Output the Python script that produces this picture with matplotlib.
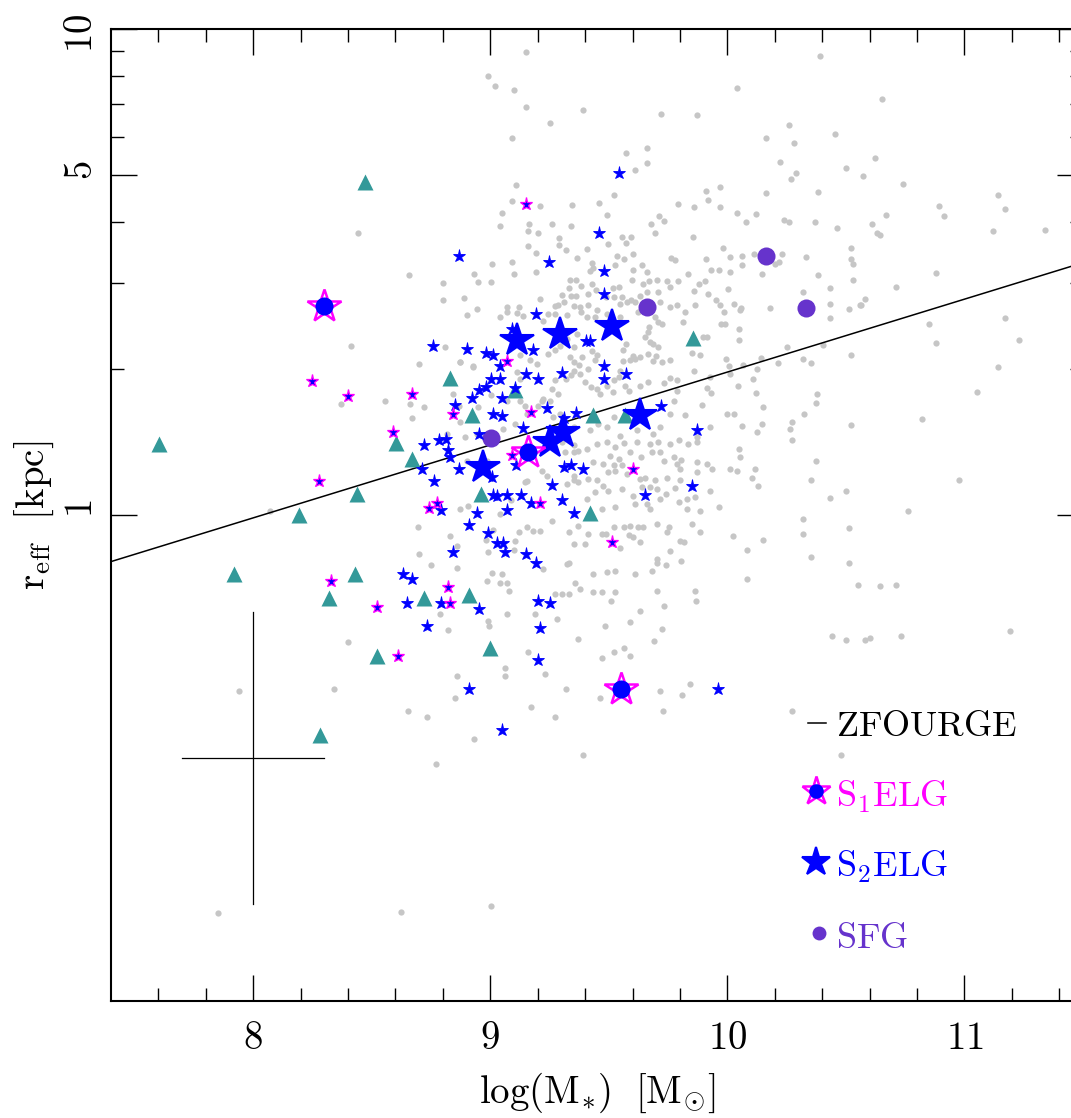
import numpy as np
import matplotlib.pyplot as plt
from matplotlib.ticker import NullFormatter

plt.rcParams['mathtext.fontset'] = 'cm'

# ZFOURGE comparison sample: (log M*, log r_eff)
zfourge_pts = [
    (8.444, 0.580), (8.411, 0.347), (8.369, 0.229), (8.071, 0.009), (8.401, -0.261),
    (7.940, -0.363), (8.341, -0.359), (7.851, -0.819), (8.932, -0.460), (8.771, -0.513),
    (9.392, -0.493), (8.622, -0.817), (9.002, -0.805), (10.480, -0.493),
    (9.151, 0.953), (8.992, 0.903), (9.020, 0.883), (9.100, 0.874), (9.151, 0.839),
    (9.252, 0.806), (9.390, 0.833), (9.721, 0.826), (9.871, 0.823), (9.090, 0.775),
    (9.572, 0.744), (9.660, 0.756), (9.660, 0.725), (9.611, 0.710), (9.911, 0.667),
    (9.920, 0.648), (9.791, 0.640), (9.522, 0.659), (9.109, 0.679), (8.659, 0.493),
    (10.392, 0.945), (10.041, 0.878), (10.652, 0.856), (10.262, 0.802), (10.452, 0.783),
    (10.161, 0.775), (10.280, 0.765), (10.220, 0.726), (10.621, 0.735), (10.501, 0.713),
    (10.572, 0.698), (10.290, 0.703), (10.269, 0.691), (9.971, 0.674), (10.740, 0.680),
    (10.382, 0.664), (10.161, 0.663), (11.141, 0.659), (10.891, 0.635), (10.912, 0.615),
    (11.172, 0.629), (11.122, 0.585), (11.341, 0.586), (10.671, 0.618), (10.611, 0.598),
    (10.631, 0.581), (10.642, 0.577), (10.712, 0.469), (10.881, 0.498), (10.581, 0.444),
    (10.562, 0.431), (10.851, 0.392), (11.172, 0.405), (11.231, 0.359), (10.881, 0.354),
    (9.090, 0.646), (9.210, 0.635), (9.344, 0.638), (9.460, 0.642), (9.051, 0.622),
    (9.165, 0.598), (9.262, 0.598), (9.041, 0.594), (9.341, 0.594), (9.491, 0.618),
    (9.679, 0.598), (9.712, 0.615), (9.731, 0.605), (9.693, 0.581), (9.161, 0.584),
    (9.200, 0.580), (9.555, 0.572), (9.593, 0.572), (9.573, 0.560), (9.498, 0.558),
    (9.407, 0.548), (9.290, 0.569), (9.290, 0.556), (9.320, 0.545), (9.192, 0.540),
    (9.161, 0.553), (9.009, 0.517), (9.090, 0.521), (9.365, 0.529), (9.428, 0.519),
    (9.432, 0.508), (9.534, 0.532), (9.562, 0.527), (9.601, 0.536), (9.639, 0.515),
    (9.763, 0.529), (9.780, 0.524), (9.660, 0.500), (9.601, 0.505), (9.524, 0.515),
    (9.421, 0.501), (8.933, 0.495), (9.102, 0.495), (9.192, 0.499), (9.362, 0.483),
    (9.337, 0.483), (9.330, 0.468), (9.382, 0.472), (9.341, 0.450), (9.362, 0.450),
    (9.302, 0.453), (9.414, 0.455), (9.446, 0.462), (9.431, 0.476), (9.517, 0.466),
    (9.541, 0.469), (9.489, 0.448), (9.520, 0.448), (9.555, 0.448), (9.597, 0.483),
    (9.646, 0.475), (9.671, 0.481), (9.702, 0.483), (9.745, 0.481), (9.791, 0.481),
    (9.759, 0.470), (9.709, 0.459), (9.663, 0.459), (9.632, 0.450), (9.594, 0.442),
    (9.548, 0.435), (9.414, 0.431), (9.379, 0.428), (9.351, 0.430), (9.313, 0.438),
    (9.287, 0.433), (9.273, 0.429), (9.273, 0.414), (9.210, 0.445), (9.119, 0.428),
    (9.070, 0.428), (9.070, 0.418), (9.112, 0.416), (9.140, 0.409), (9.039, 0.407),
    (8.950, 0.479), (9.002, 0.479), (8.802, 0.477), (8.891, 0.446), (8.802, 0.443),
    (8.943, 0.424), (8.901, 0.411), (9.224, 0.400), (9.245, 0.414), (9.323, 0.412),
    (9.383, 0.418), (9.442, 0.407), (9.452, 0.422), (9.491, 0.414), (9.548, 0.407),
    (9.576, 0.438), (9.611, 0.438), (9.625, 0.418), (9.716, 0.438), (9.756, 0.428),
    (9.787, 0.431), (9.695, 0.407), (9.709, 0.397), (9.724, 0.392), (9.671, 0.387),
    (9.667, 0.376), (9.653, 0.366), (9.674, 0.356), (9.688, 0.352), (9.709, 0.345),
    (9.700, 0.328), (9.667, 0.332), (9.632, 0.325), (9.604, 0.328), (9.573, 0.352),
    (9.558, 0.339), (9.558, 0.317), (9.590, 0.318), (9.611, 0.320), (9.688, 0.317),
    (9.724, 0.315), (9.759, 0.318), (9.759, 0.282), (9.787, 0.277), (9.731, 0.271),
    (9.667, 0.273), (9.632, 0.266), (9.569, 0.266), (9.583, 0.256), (9.548, 0.297),
    (9.541, 0.284), (9.520, 0.277), (9.491, 0.266), (9.517, 0.253), (9.463, 0.249),
    (9.449, 0.260), (9.425, 0.263), (9.400, 0.273), (9.379, 0.290), (9.375, 0.308),
    (9.351, 0.314), (9.337, 0.325), (9.386, 0.325), (9.428, 0.337), (9.449, 0.330),
    (9.442, 0.318), (9.414, 0.301), (9.351, 0.297), (9.340, 0.287), (9.320, 0.280),
    (9.273, 0.277), (9.259, 0.260), (9.287, 0.249), (9.252, 0.235), (9.220, 0.235),
    (9.203, 0.225), (9.196, 0.311), (9.168, 0.318), (9.126, 0.330), (9.245, 0.332),
    (9.273, 0.339), (9.295, 0.348), (9.323, 0.363), (9.365, 0.373), (9.351, 0.345),
    (9.407, 0.407), (8.873, 0.314), (8.929, 0.304), (8.809, 0.345), (8.844, 0.249),
    (8.870, 0.225), (8.950, 0.222), (9.003, 0.246), (9.112, 0.294), (9.126, 0.280),
    (9.147, 0.225), (9.224, 0.239), (9.126, 0.235), (9.070, 0.235), (8.873, 0.191),
    (8.816, 0.167), (8.894, 0.160), (8.943, 0.167), (9.055, 0.177), (9.105, 0.188),
    (9.154, 0.208), (9.266, 0.201), (9.295, 0.208), (9.351, 0.181), (9.421, 0.174),
    (9.456, 0.188), (9.491, 0.181), (9.520, 0.201), (9.548, 0.163), (9.618, 0.174),
    (9.688, 0.167), (9.716, 0.181), (9.759, 0.208), (9.773, 0.235), (9.787, 0.256),
    (9.861, 0.633), (9.970, 0.633), (10.040, 0.622), (10.120, 0.619), (10.079, 0.602),
    (10.240, 0.606), (10.262, 0.602), (10.371, 0.602), (10.462, 0.591), (9.857, 0.572),
    (9.981, 0.549), (10.061, 0.533), (10.012, 0.530), (10.113, 0.536), (10.230, 0.536),
    (10.202, 0.517), (10.219, 0.521), (10.331, 0.531), (10.521, 0.550), (10.521, 0.526),
    (10.532, 0.516), (9.911, 0.526), (9.930, 0.503), (9.963, 0.505), (10.012, 0.500),
    (9.832, 0.495), (9.861, 0.460), (9.882, 0.476), (9.904, 0.481), (9.920, 0.455),
    (9.953, 0.443), (10.002, 0.464), (10.061, 0.515), (10.145, 0.495), (10.382, 0.493),
    (10.532, 0.483), (10.321, 0.459), (10.431, 0.467), (10.431, 0.435), (10.431, 0.406),
    (10.511, 0.424), (10.560, 0.431), (10.181, 0.426), (10.058, 0.426), (10.054, 0.421),
    (10.029, 0.435), (9.984, 0.418), (9.967, 0.433), (9.864, 0.433), (9.822, 0.418),
    (9.812, 0.397), (9.973, 0.392), (9.991, 0.392), (10.051, 0.383), (10.051, 0.361),
    (9.897, 0.366), (9.916, 0.367), (9.883, 0.330), (9.850, 0.334), (9.860, 0.296),
    (9.925, 0.284), (9.994, 0.320), (10.005, 0.306), (10.012, 0.289), (10.068, 0.308),
    (10.110, 0.279), (10.124, 0.301), (10.143, 0.323), (10.212, 0.313), (10.251, 0.345),
    (10.321, 0.321), (10.352, 0.313), (10.402, 0.350), (10.522, 0.330), (9.913, 0.262),
    (9.930, 0.251), (10.043, 0.265), (10.120, 0.251), (10.378, 0.249),
    (9.301, 0.150), (9.351, 0.143), (9.316, 0.129), (9.351, 0.129), (9.372, 0.132),
    (9.407, 0.136), (9.449, 0.146), (9.491, 0.150), (9.527, 0.139), (9.566, 0.148),
    (9.618, 0.150), (9.674, 0.146), (9.709, 0.150), (9.759, 0.146), (9.794, 0.154),
    (9.836, 0.146), (9.871, 0.150), (9.505, 0.122), (9.541, 0.115), (9.590, 0.129),
    (9.635, 0.119), (9.681, 0.129), (9.716, 0.129), (9.773, 0.119), (9.804, 0.114),
    (9.731, 0.112), (9.435, 0.108), (9.477, 0.105), (9.520, 0.102), (9.555, 0.102),
    (9.527, 0.091), (9.498, 0.088), (9.576, 0.084), (9.632, 0.074), (9.653, 0.077),
    (9.695, 0.071), (9.745, 0.077), (9.787, 0.105), (9.801, 0.095), (9.801, 0.071),
    (9.871, 0.108), (9.871, 0.088), (9.913, 0.105), (9.934, 0.095), (10.012, 0.095),
    (10.040, 0.091), (10.054, 0.119), (10.047, 0.136), (10.117, 0.095), (10.103, 0.077),
    (10.131, 0.060), (9.927, 0.050), (9.963, 0.017), (9.864, 0.036), (9.829, 0.033),
    (9.780, 0.056), (9.794, 0.026), (9.742, 0.043), (9.716, 0.033), (9.702, 0.053),
    (9.674, 0.057), (9.639, 0.057), (9.604, 0.040), (9.555, 0.053), (9.498, 0.050),
    (9.477, 0.060), (9.449, 0.071), (9.414, 0.074), (9.372, 0.067), (9.351, 0.071),
    (9.351, 0.081), (9.323, 0.064), (9.442, 0.047), (9.407, 0.033), (9.470, 0.012),
    (9.527, 0.016), (9.611, 0.023), (9.660, 0.023), (9.674, 0.012), (9.829, 0.012),
    (9.885, 0.009), (9.850, -0.019), (9.885, -0.036), (9.752, -0.025), (9.745, -0.036),
    (9.702, -0.019), (9.646, -0.025), (9.621, -0.025), (9.590, -0.022), (9.562, -0.025),
    (9.520, -0.025), (9.583, -0.041), (9.604, -0.045), (9.632, -0.056), (9.470, -0.039),
    (9.489, -0.039), (9.411, -0.039), (9.368, -0.022), (9.330, -0.036), (9.400, -0.060),
    (9.351, -0.060), (9.548, -0.067), (9.702, -0.091), (9.702, -0.098), (9.759, -0.074),
    (9.801, -0.053), (9.815, -0.056), (9.804, -0.094), (9.742, -0.104), (9.681, -0.115),
    (9.611, -0.122), (9.491, -0.118), (9.527, -0.115), (9.432, -0.122), (9.330, -0.098),
    (9.323, -0.101), (9.358, -0.139), (9.379, -0.152), (9.435, -0.159), (9.470, -0.159),
    (9.527, -0.159), (9.301, -0.163), (9.330, -0.163), (9.510, -0.177), (9.632, -0.197),
    (9.702, -0.156), (9.731, -0.187), (9.864, -0.156), (9.868, -0.177), (10.022, -0.044),
    (10.082, -0.072), (10.152, -0.052), (10.082, -0.132),
    (9.822, 0.205), (9.892, 0.227), (9.927, 0.181), (9.998, 0.208), (10.026, 0.208),
    (10.061, 0.184), (10.152, 0.222), (10.145, 0.187), (10.124, 0.170), (10.272, 0.191),
    (10.265, 0.177), (10.272, 0.154), (9.871, 0.160),
    (8.701, 0.310), (8.873, 0.314), (8.929, 0.306), (8.556, 0.234), (8.662, 0.229),
    (8.722, 0.222), (8.671, 0.200), (8.901, 0.112), (8.985, 0.112), (8.873, 0.012),
    (8.908, 0.019), (8.693, -0.025), (8.830, -0.043), (8.858, -0.063), (8.701, -0.080),
    (8.750, -0.104), (8.861, -0.110), (8.985, -0.135), (9.006, -0.119), (9.041, -0.139),
    (9.048, -0.122), (9.072, -0.139), (9.079, -0.156), (9.098, -0.073), (9.123, -0.036),
    (9.154, -0.025), (9.105, -0.053), (9.182, -0.032), (9.210, -0.032), (9.259, -0.012),
    (9.224, -0.111), (8.992, -0.077), (8.982, -0.052), (9.013, -0.031), (9.039, 0.001),
    (9.086, 0.030), (9.147, 0.067), (9.154, 0.069), (9.238, 0.081), (9.217, 0.091),
    (8.788, -0.204), (8.823, -0.237), (8.992, -0.218), (8.996, -0.229), (9.069, -0.203),
    (9.189, -0.204), (9.280, -0.214), (9.273, -0.163), (9.161, -0.281), (9.231, -0.328),
    (9.062, -0.315), (9.062, -0.331), (8.861, -0.331), (8.851, -0.377), (8.652, -0.403),
    (8.732, -0.416), (9.171, -0.396), (9.273, -0.416), (9.482, -0.229), (9.590, -0.220),
    (9.723, -0.235), (9.691, -0.260), (9.369, -0.256), (9.470, -0.295), (9.522, -0.283),
    (9.562, -0.273), (9.590, -0.290), (9.714, -0.362), (9.808, -0.371), (9.843, -0.348),
    (9.730, -0.403), (9.463, -0.376), (9.320, -0.359),
    (11.141, 0.304), (11.053, 0.253), (10.822, 0.198), (10.372, 0.230), (10.323, 0.208),
    (10.522, 0.186), (10.979, 0.071), (10.761, 0.009), (10.501, 0.049), (10.431, 0.035),
    (10.372, 0.111), (10.351, 0.071), (10.321, -0.008), (10.321, -0.039), (10.511, -0.027),
    (10.351, -0.086), (10.511, -0.098), (10.552, -0.144), (10.642, -0.147), (10.712, -0.144),
    (10.442, -0.249), (10.501, -0.257), (10.581, -0.257), (10.601, -0.253), (10.732, -0.249),
    (11.192, -0.238), (10.271, -0.403),
]
zfourge_logm = [p[0] for p in zfourge_pts]
zfourge_logr = [p[1] for p in zfourge_pts]

# triangles
tri_logm = [7.601, 8.472, 7.919, 8.192, 8.321, 8.431, 8.437, 8.282, 8.521, 8.601, 8.671,
            8.722, 8.830, 8.911, 8.922, 8.961, 9.000, 9.103, 9.432, 9.421, 9.568, 9.853]
tri_logr = [0.147, 0.685, -0.122, -0.001, -0.171, -0.122, 0.043, -0.453, -0.290, 0.148, 0.116,
            -0.171, 0.282, -0.165, 0.206, 0.043, -0.274, 0.258, 0.206, 0.003, 0.206, 0.365]

# SFG
sfg_logm = [9.002, 9.660, 10.162, 10.331]
sfg_logr = [0.159, 0.428, 0.532, 0.426]

# S1ELG (big = with circle)
s1_big_logm = [8.299, 9.161, 9.552]
s1_big_logr = [0.429, 0.129, -0.359]
s1_logm = [8.249, 8.400, 8.279, 8.328, 9.150, 8.671, 8.842, 8.591, 9.171, 9.091, 8.774,
           8.742, 9.210, 9.601, 9.512, 8.821, 8.830, 8.521, 8.612, 9.070]
s1_logr = [0.275, 0.245, 0.069, -0.135, 0.639, 0.249, 0.208, 0.170, 0.211, 0.124, 0.024,
           0.014, 0.024, 0.095, -0.056, -0.149, -0.182, -0.190, -0.290, 0.316]

# S2ELG
s2_big_logm = [9.112, 9.292, 9.512, 8.971, 9.252, 9.308, 9.632]
s2_big_logr = [0.360, 0.373, 0.389, 0.098, 0.151, 0.170, 0.205]
s2_logm = [9.541, 9.460, 8.870, 9.249, 9.481, 9.481, 9.192, 9.091, 8.760, 8.901, 9.181,
           8.980, 9.011, 9.404, 9.421, 9.041, 9.002, 9.041, 9.151, 9.202, 9.302, 9.481,
           9.481, 9.572, 8.953, 8.981, 9.103, 8.922, 9.051, 8.851, 9.011, 9.051, 9.241,
           9.361, 9.311, 9.721, 9.140, 8.952, 8.814, 8.783, 8.722, 8.823, 8.830, 8.711,
           8.870, 8.763, 9.009, 9.109, 9.311, 9.341, 9.392, 9.262, 9.871, 9.851, 9.653,
           9.013, 9.030, 9.070, 9.131, 9.171, 9.303, 9.351, 9.072, 8.943, 8.792, 8.912,
           8.992, 9.030, 9.053, 9.061, 9.151, 9.192, 8.842, 8.631, 8.671, 8.650, 8.791,
           8.953, 9.200, 9.252, 9.210, 8.732, 9.203, 8.911, 9.962, 9.051]
s2_logr = [0.703, 0.581, 0.533, 0.520, 0.502, 0.454, 0.414, 0.383, 0.347, 0.341, 0.339,
           0.334, 0.330, 0.357, 0.357, 0.306, 0.280, 0.280, 0.289, 0.280, 0.293, 0.306,
           0.279, 0.289, 0.258, 0.263, 0.261, 0.240, 0.240, 0.227, 0.208, 0.203, 0.221,
           0.210, 0.200, 0.225, 0.179, 0.167, 0.156, 0.155, 0.143, 0.134, 0.119, 0.095,
           0.095, 0.069, 0.079, 0.103, 0.099, 0.103, 0.095, 0.062, 0.174, 0.059, 0.041,
           0.041, 0.038, 0.041, 0.041, 0.024, 0.030, 0.004, 0.010, 0.004, 0.010, -0.021,
           -0.038, -0.057, -0.057, -0.076, -0.080, -0.099, -0.076, -0.122, -0.132, -0.181, -0.181,
           -0.194, -0.177, -0.181, -0.233, -0.228, -0.299, -0.359, -0.359, -0.442]

# ZFOURGE size-mass relation and typical error
zf_slope = 0.15
zf_logr_at10 = 0.294
zf_logm_range = [7.4, 11.5]
err_logm, err_logr = 8.0, -0.5
err_dlogm, err_dlogr = 0.3, 0.3

MAGENTA = '#ff00ff'
BLUE = '#0000ff'
PURPLE = '#6633cc'
TEAL = '#339999'
GRAY = '#c6c6c6'

fig = plt.figure(figsize=(10.71, 11.18), dpi=100)
ax = fig.add_axes([0.1036, 0.1047, 0.9076, 0.8694])


def r(logr):
    return 10 ** np.asarray(logr)


ax.plot(zfourge_logm, r(zfourge_logr), ls='none', marker='o', ms=4.5, mfc=GRAY, mec='none', zorder=1)

xl = np.array(zf_logm_range)
ax.plot(xl, r(zf_logr_at10 + zf_slope * (xl - 10)), color='k', lw=1.1, zorder=2)

ax.plot(tri_logm, r(tri_logr), ls='none', marker='^', ms=12, mfc=TEAL, mec='none', zorder=3)
ax.plot(sfg_logm, r(sfg_logr), ls='none', marker='o', ms=13, mfc=PURPLE, mec='none', zorder=4)
ax.plot(s2_logm, r(s2_logr), ls='none', marker='*', ms=9.5, mfc=BLUE, mec=BLUE, mew=0.6, zorder=5)
ax.plot(s1_logm, r(s1_logr), ls='none', marker='*', ms=9.5, mfc=BLUE, mec=MAGENTA, mew=0.9, zorder=5)
ax.plot(s2_big_logm, r(s2_big_logr), ls='none', marker='*', ms=25, mfc=BLUE, mec=BLUE, mew=1.5, zorder=6)
ax.plot(s1_big_logm, r(s1_big_logr), ls='none', marker='*', ms=25, mfc='none', mec=MAGENTA, mew=1.8, zorder=6)
ax.plot(s1_big_logm, r(s1_big_logr), ls='none', marker='o', ms=13, mfc=BLUE, mec='none', zorder=7)

# typical error cross
ax.plot([err_logm - err_dlogm, err_logm + err_dlogm], r([err_logr, err_logr]), color='k', lw=0.9)
ax.plot([err_logm, err_logm], r([err_logr - err_dlogr, err_logr + err_dlogr]), color='k', lw=0.9)

ax.set_yscale('log')
ax.set_xlim(7.4, 11.5)
ax.set_ylim(0.1, 10)

xmaj = [8, 9, 10, 11]
ax.set_xticks(xmaj)
ax.set_xticklabels([rf'${v}$' for v in xmaj])
ax.set_xticks(np.arange(7.6, 11.5, 0.2), minor=True)
ymaj = [1, 5, 10]
ax.set_yticks(ymaj)
ax.set_yticklabels([rf'${v}$' for v in ymaj])
ax.set_yticks([2, 3, 4, 6, 7, 8, 9], minor=True)
ax.yaxis.set_minor_formatter(NullFormatter())

ax.tick_params(which='both', direction='in', top=True, right=True, width=1.0, labelsize=28)
ax.tick_params(which='major', length=18.5)
ax.tick_params(which='minor', length=9.3)
ax.tick_params(axis='x', pad=13)
ax.tick_params(axis='y', labelrotation=90, pad=8)
for s in ax.spines.values():
    s.set_linewidth(1.5)

ax.set_xlabel(r'$\mathrm{log(M_{\ast})\ \ [M_{\odot}]}$', fontsize=28, labelpad=10)
ax.set_ylabel(r'$\mathrm{r_{eff}\ \ [kpc]}$', fontsize=28, labelpad=4)

# legend drawn by hand
tr = ax.transAxes
fs_leg = 26
ax.plot([0.717, 0.736], [0.286, 0.286], color='k', lw=1.1, transform=tr)
ax.text(0.746, 0.2726, r'$\mathrm{ZFOURGE}$', fontsize=fs_leg, color='k', transform=tr, va='baseline')
ax.plot([0.725], [0.2164], marker='*', ms=21, mfc='none', mec=MAGENTA, mew=1.8, transform=tr, clip_on=False)
ax.plot([0.725], [0.2164], marker='o', ms=10.5, mfc=BLUE, mec='none', transform=tr, clip_on=False)
ax.text(0.746, 0.1996, r'$\mathrm{S_1ELG}$', fontsize=fs_leg, color=MAGENTA, transform=tr, va='baseline')
ax.plot([0.725], [0.1433], marker='*', ms=21, mfc=BLUE, mec=BLUE, mew=1.5, transform=tr, clip_on=False)
ax.text(0.746, 0.1279, r'$\mathrm{S_2ELG}$', fontsize=fs_leg, color=BLUE, transform=tr, va='baseline')
ax.plot([0.728], [0.0697], marker='o', ms=10, mfc=PURPLE, mec='none', transform=tr, clip_on=False)
ax.text(0.746, 0.0548, r'$\mathrm{SFG}$', fontsize=fs_leg, color=PURPLE, transform=tr, va='baseline')

fig.savefig('out.png', dpi=100)
